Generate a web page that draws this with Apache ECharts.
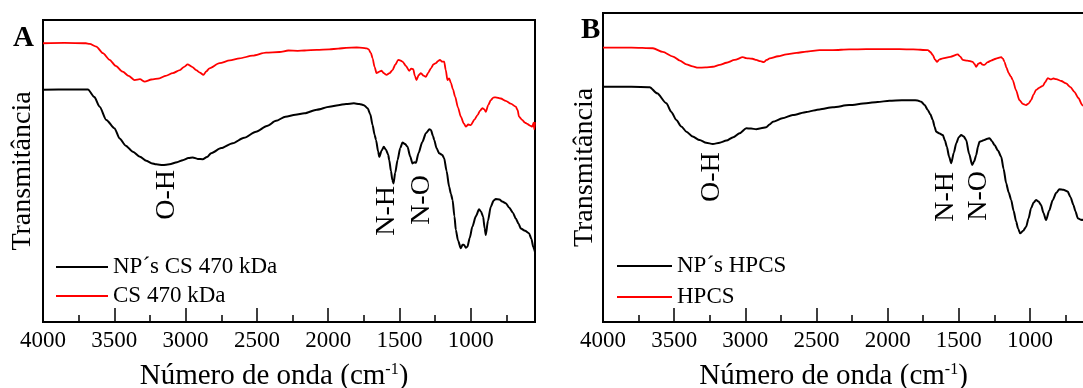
<!DOCTYPE html>
<html>
<head>
<meta charset="utf-8">
<script src="https://cdn.jsdelivr.net/npm/echarts@6/dist/echarts.min.js"></script>
<style>
html,body{margin:0;padding:0;background:#fff;}
#chart{width:1083px;height:388px;}
</style>
</head>
<body>
<div id="chart"></div>
<script>
// Tick labels / tick positions (wavenumber, cm^-1)
const majorTicks = [4000, 3500, 3000, 2500, 2000, 1500, 1000];
const minorTicks = [3750, 3250, 2750, 2250, 1750, 1250, 750];

// Series names
const namesA = ['NP\u00B4s CS 470 kDa', 'CS 470 kDa'];
const namesB = ['NP\u00B4s HPCS', 'HPCS'];

// Panel A – NP's CS 470 kDa (black)  [wavenumber, transmittance a.u.]
const npCS470 = [
  [4000,76.9],[3800,77.0],[3685,77.0],[3640,74.5],[3603,71.3],[3556,66.9],[3498,64.1],[3463,60.8],
  [3420,58.4],[3370,56.4],[3320,54.7],[3276,53.4],[3240,52.6],[3206,52.2],[3160,52.0],[3113,52.2],
  [3060,52.9],[3020,53.6],[2980,54.3],[2950,54.5],[2915,54.0],[2880,53.9],[2850,54.6],[2821,55.9],
  [2750,57.6],[2670,59.2],[2590,61.0],[2506,63.0],[2430,64.9],[2366,66.6],[2300,68.0],[2230,68.6],
  [2167,69.1],[2080,70.3],[1992,71.3],[1930,71.8],[1875,72.2],[1820,72.4],[1782,72.2],[1750,71.8],
  [1724,70.8],[1705,68.8],[1689,65.2],[1675,62.0],[1665,60.3],[1650,56.5],[1642,54.7],[1625,56.8],
  [1610,58.0],[1595,57.0],[1580,55.5],[1572,53.6],[1560,50.0],[1550,47.0],[1542,45.9],[1530,49.5],
  [1514,53.6],[1495,57.6],[1479,59.4],[1460,58.9],[1444,58.0],[1425,54.8],[1409,52.5],[1395,52.9],
  [1385,52.7],[1367,55.9],[1340,59.6],[1315,62.5],[1290,63.8],[1280,63.6],[1265,61.6],[1257,60.3],
  [1240,57.5],[1222,55.9],[1200,55.3],[1187,54.2],[1170,50.0],[1152,44.8],[1140,42.5],[1128,40.4],
  [1115,35.0],[1105,30.5],[1090,27.0],[1070,24.4],[1058,25.6],[1047,25.5],[1035,24.6],[1024,24.9],
  [1008,27.8],[989,31.6],[965,35.0],[942,37.3],[928,36.5],[914,34.9],[903,31.0],[895,28.8],
  [880,33.5],[860,38.2],[840,40.2],[825,40.7],[800,40.6],[780,39.9],[755,39.3],[730,37.8],
  [705,36.2],[685,34.3],[665,32.5],[650,31.0],[620,30.2],[592,29.4],[575,27.5],[562,24.8],[550,23.2]
];

// Panel A – CS 470 kDa (red)
const cs470 = [
  [4000,92.3],[3850,92.4],[3700,92.3],[3673,92.1],[3626,91.2],[3580,89.0],[3533,86.8],[3490,84.8],
  [3441,82.9],[3400,81.5],[3357,80.1],[3320,80.4],[3287,79.6],[3240,80.3],[3183,80.7],[3140,81.5],
  [3090,82.4],[3040,83.4],[3010,84.5],[2986,85.3],[2955,84.5],[2926,83.4],[2900,82.6],[2875,81.8],
  [2855,83.0],[2833,84.0],[2762,85.7],[2690,86.6],[2622,87.3],[2530,88.2],[2436,89.2],[2342,89.4],
  [2280,89.9],[2214,89.8],[2167,89.9],[2080,90.1],[1992,90.3],[1930,90.5],[1875,90.8],[1800,90.9],
  [1759,90.8],[1730,90.6],[1717,90.3],[1700,89.0],[1689,87.3],[1675,84.5],[1661,82.4],[1645,82.8],
  [1626,83.2],[1610,82.4],[1591,81.8],[1570,82.4],[1549,83.4],[1530,85.2],[1509,86.8],[1495,86.6],
  [1479,86.2],[1455,84.8],[1432,83.2],[1418,83.9],[1404,83.7],[1392,81.5],[1381,80.1],[1365,81.8],
  [1350,82.4],[1332,81.6],[1315,81.2],[1298,82.6],[1280,84.0],[1262,85.3],[1245,85.7],[1230,86.4],
  [1217,86.8],[1200,86.2],[1187,86.2],[1176,83.5],[1164,80.1],[1152,80.7],[1140,79.2],[1125,77.0],
  [1110,74.6],[1090,71.0],[1070,68.0],[1050,65.8],[1035,64.7],[1018,65.4],[1000,65.2],[975,67.0],
  [953,68.5],[935,70.0],[919,70.8],[905,70.4],[895,69.6],[878,71.8],[860,73.5],[842,74.3],
  [825,74.4],[790,74.0],[755,73.2],[720,72.3],[685,71.3],[672,70.2],[662,68.0],[640,66.9],
  [620,66.0],[604,65.6],[585,65.0],[569,64.7],[560,66.0],[555,63.8],[550,66.2]
];

// Panel B – NP's HPCS (black)
const npHPCS = [
  [4000,76.1],[3800,76.1],[3672,76.0],[3620,74.0],[3555,70.8],[3520,68.0],[3485,65.4],[3450,63.3],
  [3414,61.6],[3370,60.0],[3321,58.9],[3275,58.0],[3228,57.6],[3180,58.0],[3133,58.7],[3085,59.8],
  [3040,61.1],[2993,62.7],[2960,62.6],[2923,62.4],[2890,62.7],[2853,63.0],[2830,63.9],[2806,64.8],
  [2740,65.9],[2666,67.0],[2570,68.0],[2478,68.8],[2385,69.5],[2270,70.2],[2150,70.8],[2070,71.2],
  [1987,71.6],[1900,71.8],[1823,71.8],[1790,71.7],[1764,71.3],[1740,70.2],[1718,68.6],[1700,67.2],
  [1683,65.4],[1670,63.2],[1659,61.6],[1635,61.0],[1612,60.5],[1598,58.8],[1584,56.7],[1568,53.5],
  [1553,51.4],[1535,54.8],[1518,57.8],[1500,59.8],[1483,60.5],[1465,60.0],[1448,58.9],[1428,54.5],
  [1406,50.8],[1392,52.0],[1378,54.0],[1365,56.8],[1355,58.3],[1338,58.6],[1320,58.9],[1300,59.3],
  [1284,59.5],[1268,58.6],[1249,57.3],[1225,55.5],[1202,53.5],[1185,49.5],[1167,44.9],[1150,42.0],
  [1132,39.5],[1115,36.0],[1097,32.5],[1083,30.2],[1069,28.7],[1048,29.5],[1027,30.8],[1010,33.5],
  [992,36.8],[975,38.6],[957,39.5],[940,39.0],[922,37.9],[905,35.3],[887,33.0],[865,36.0],
  [840,39.5],[815,41.8],[793,43.0],[765,42.8],[735,42.2],[715,40.4],[695,37.9],[680,35.8],
  [664,33.6],[648,33.2],[632,33.0],[590,34.6],[550,31.4]
];

// Panel B – HPCS (red)
const hpcs = [
  [4000,88.8],[3800,88.8],[3649,88.6],[3580,87.4],[3508,85.9],[3460,84.6],[3414,83.4],[3370,82.7],
  [3333,82.3],[3280,82.4],[3228,82.6],[3180,83.2],[3133,83.9],[3075,84.8],[3017,85.7],[2995,85.4],
  [2975,85.3],[2950,85.2],[2923,84.8],[2895,84.4],[2871,84.1],[2850,84.8],[2829,85.3],[2770,86.0],
  [2712,86.6],[2640,87.1],[2572,87.5],[2478,88.0],[2385,88.0],[2270,88.2],[2150,88.3],[2030,88.3],
  [1916,88.3],[1820,88.2],[1718,88.0],[1700,87.4],[1683,86.4],[1668,85.0],[1654,84.2],[1635,85.0],
  [1612,85.3],[1560,85.8],[1507,86.6],[1490,85.9],[1472,84.8],[1440,84.6],[1402,84.2],[1390,83.5],
  [1378,82.6],[1363,83.6],[1348,83.9],[1334,83.3],[1320,83.2],[1297,84.1],[1273,84.6],[1240,85.2],
  [1202,85.7],[1190,85.2],[1179,84.2],[1165,82.3],[1149,80.5],[1135,79.5],[1121,78.3],[1098,75.0],
  [1074,71.8],[1050,70.6],[1027,70.2],[1010,70.7],[992,71.8],[975,73.6],[957,75.1],[935,75.8],
  [910,76.4],[893,77.6],[875,78.9],[855,78.5],[835,78.8],[816,78.6],[780,78.0],[746,77.2],
  [715,76.0],[688,74.5],[660,72.5],[632,70.2],[590,68.0],[550,66.0]
];

// Band annotations [wavenumber, value, text]
const bandsA = [[3134, 42.1, 'O-H'], [1593, 36.8, 'N-H'], [1348, 40.4, 'N-O']];
const bandsB = [[3237, 46.9, 'O-H'], [1593, 40.5, 'N-H'], [1362, 40.8, 'N-O']];

const SERIF = '"Liberation Serif", "DejaVu Serif", serif';

function markPts(bands) {
  return {
    symbol: 'rect',
    symbolSize: 1,
    itemStyle: { color: 'rgba(0,0,0,0)' },
    silent: true,
    label: {
      show: true, position: 'inside', rotate: 90, color: '#000',
      fontSize: 28, fontFamily: SERIF, formatter: p => p.name
    },
    data: bands.map(b => ({ name: b[2], coord: [b[0], b[1]] }))
  };
}

function majorAxis(gi) {
  return {
    type: 'value', gridIndex: gi, min: 550, max: 4000, inverse: true,
    position: 'bottom',
    axisLine: { show: true, onZero: false, lineStyle: { color: '#000', width: 2 } },
    splitLine: { show: false },
    axisTick: { show: true, inside: true, length: 14, customValues: majorTicks,
                lineStyle: { color: '#000', width: 1.5 } },
    axisLabel: { show: true, customValues: majorTicks, margin: 7, color: '#000',
                 fontSize: 23, fontFamily: SERIF, formatter: v => String(v) },
    name: 'Número de onda (cm{sup|-1})',
    nameLocation: 'middle',
    nameGap: 40,
    nameMoveOverlap: false,
    nameTextStyle: {
      color: '#000', fontSize: 29, fontFamily: SERIF, padding: [0, 30, 0, 0],
      rich: { sup: { fontSize: 16, fontFamily: SERIF, verticalAlign: 'top', color: '#000' } }
    }
  };
}
function minorAxis(gi) {
  return {
    type: 'value', gridIndex: gi, min: 550, max: 4000, inverse: true,
    position: 'bottom',
    axisLine: { show: false, onZero: false },
    splitLine: { show: false },
    axisTick: { show: true, inside: true, length: 7, customValues: minorTicks,
                lineStyle: { color: '#000', width: 1.5 } },
    axisLabel: { show: false }
  };
}
function yAxis(gi, gap) {
  const a = {
    type: 'value', gridIndex: gi, min: 0, max: 100,
    axisLine: { show: false }, axisTick: { show: false }, axisLabel: { show: false },
    splitLine: { show: false }
  };
  if (gap !== undefined) {
    a.name = 'Transmitância';
    a.nameLocation = 'middle';
    a.nameRotate = 90;
    a.nameGap = gap;
    a.nameMoveOverlap = false;
    a.nameTextStyle = { color: '#000', fontSize: 28, fontFamily: SERIF };
  }
  return a;
}
function lineSeries(name, data, color, xi, yi, width, bands) {
  const s = {
    name, type: 'line', data, xAxisIndex: xi, yAxisIndex: yi,
    showSymbol: false, symbol: 'none', smooth: 0.25, smoothMonotone: 'x',
    lineStyle: { color, width }, itemStyle: { color },
    animation: false, silent: true
  };
  if (bands) s.markPoint = markPts(bands);
  return s;
}

const rectA = { left: 43, top: 20, width: 492, height: 302, outerBoundsMode: 'none', containLabel: false };
const rectB = { left: 603, top: 13, width: 491, height: 309, outerBoundsMode: 'none', containLabel: false };

const chart = echarts.init(document.getElementById('chart'), null, { renderer: 'canvas' });
chart.setOption({
  backgroundColor: '#fff',
  animation: false,
  title: [
    { text: 'A', left: 13, top: 24, padding: 0,
      textStyle: { fontSize: 29, fontWeight: 'bold', fontFamily: SERIF, color: '#000' } },
    { text: 'B', left: 581, top: 16, padding: 0,
      textStyle: { fontSize: 29, fontWeight: 'bold', fontFamily: SERIF, color: '#000' } }
  ],
  grid: [
    Object.assign({ show: true, borderColor: '#000', borderWidth: 2 }, rectA),
    Object.assign({ show: true, borderColor: '#000', borderWidth: 2 }, rectB),
    Object.assign({ show: false }, rectA),
    Object.assign({ show: false }, rectB)
  ],
  legend: [
    { data: namesA, orient: 'vertical', left: 51, top: 250, itemWidth: 52, itemHeight: 2,
      icon: 'rect', itemGap: 5, textStyle: { color: '#000', fontSize: 23, fontFamily: SERIF, lineHeight: 24 } },
    { data: namesB, orient: 'vertical', left: 612, top: 249, itemWidth: 55, itemHeight: 2,
      icon: 'rect', itemGap: 7, textStyle: { color: '#000', fontSize: 23, fontFamily: SERIF, lineHeight: 24 } }
  ],
  xAxis: [majorAxis(0), majorAxis(1), minorAxis(2), minorAxis(3)],
  yAxis: [yAxis(0, 6), yAxis(1, 4), yAxis(2), yAxis(3)],
  series: [
    lineSeries(namesA[0], npCS470, '#000000', 0, 0, 2, bandsA),
    lineSeries(namesA[1], cs470, '#ff0000', 0, 0, 1.8),
    lineSeries(namesB[0], npHPCS, '#000000', 1, 1, 2, bandsB),
    lineSeries(namesB[1], hpcs, '#ff0000', 1, 1, 1.8)
  ]
});
</script>
</body>
</html>
